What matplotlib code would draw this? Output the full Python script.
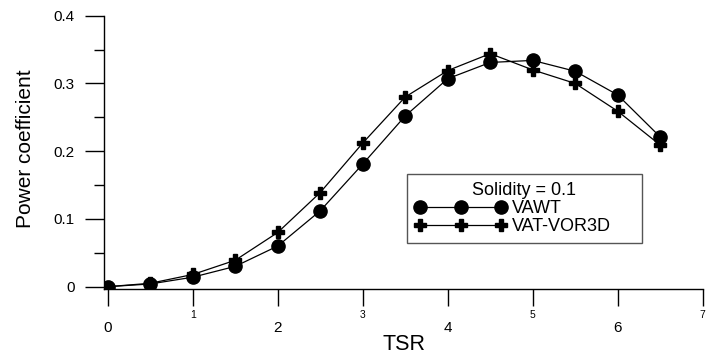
"""Power coefficient vs TSR, VAWT vs VAT-VOR3D."""
import matplotlib.pyplot as plt

plt.rcParams["font.family"] = ["Liberation Sans", "DejaVu Sans"]

tsr = [0, 0.5, 1, 1.5, 2, 2.5, 3, 3.5, 4, 4.5, 5, 5.5, 6, 6.5]
cp_vawt = [0.0, 0.004, 0.014, 0.030, 0.060, 0.112, 0.181, 0.252,
           0.307, 0.331, 0.334, 0.318, 0.283, 0.221]
cp_vor3d = [0.0, 0.005, 0.018, 0.039, 0.080, 0.139, 0.212, 0.280,
            0.319, 0.344, 0.320, 0.300, 0.259, 0.209]

major_x = [0, 2, 4, 6]
minor_x = [1, 3, 5, 7]
y_ticks = [0, 0.1, 0.2, 0.3, 0.4]
y_labels = ["0", "0.1", "0.2", "0.3", "0.4"]
y_minor = [0.05, 0.15, 0.25, 0.35]

fig = plt.figure(figsize=(7.17, 3.56), dpi=100)
ax = fig.add_axes([0.1455, 0.1871, 0.8346, 0.7688])

l2, = ax.plot(tsr, cp_vor3d, color="black", lw=0.9, marker="P", ms=8.5,
              mec="black", mfc="black", label="VAT-VOR3D")
l1, = ax.plot(tsr, cp_vawt, color="black", lw=0.9, marker="o", ms=9.5,
              mec="black", mfc="black", label="VAWT")

ax.set_xlim(-0.04, 7.0)
ax.set_ylim(-0.004, 0.4)
for s in ("top", "right"):
    ax.spines[s].set_visible(False)
ax.spines["left"].set_linewidth(1.0)
ax.spines["bottom"].set_linewidth(1.0)

ax.set_xticks(major_x)
ax.set_xticklabels([str(v) for v in major_x])
ax.set_xticks(minor_x, minor=True)
ax.set_xticklabels([str(v) for v in minor_x], minor=True)
ax.tick_params(axis="x", which="major", direction="out", length=12.5,
               width=1.0, labelsize=11, pad=10.5)
ax.tick_params(axis="x", which="minor", direction="out", length=12.5,
               width=1.0, labelsize=7.5, pad=2.4)

ax.set_yticks(y_ticks)
ax.set_yticklabels(y_labels)
ax.set_yticks(y_minor, minor=True)
ax.tick_params(axis="y", which="major", direction="out", length=13.4,
               width=1.0, labelsize=11, pad=8.0)
ax.tick_params(axis="y", which="minor", direction="out", length=7.2,
               width=1.0)

fig.text(25.5 / 717, 0.5834, "Power coefficient", rotation=90,
         ha="center", va="center", fontsize=15)
fig.text(404 / 717, 0.0337, "TSR", ha="center", va="center", fontsize=15.5)

leg = ax.legend(handles=[l1, l2], title="Solidity = 0.1", numpoints=3,
                loc="upper left",
                bbox_to_anchor=(406.7 / 717, (356 - 244.3) / 356,
                                235 / 717, 70 / 356),
                bbox_transform=fig.transFigure, borderaxespad=0, mode="expand",
                fontsize=13, title_fontsize=13, handlelength=5.1,
                handletextpad=0.3, borderpad=0.45, labelspacing=0.05,
                fancybox=False, framealpha=1)
leg.get_frame().set_edgecolor("#555555")
leg.get_frame().set_linewidth(1.0)

fig.savefig("out.png", dpi=100)
